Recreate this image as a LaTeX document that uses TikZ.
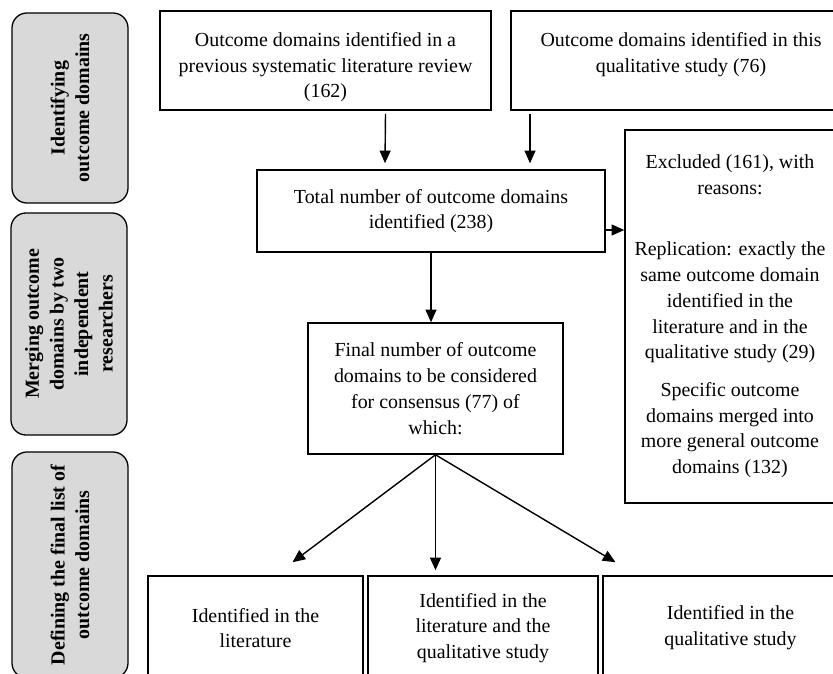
\documentclass[tikz,border=0pt]{standalone}
\usepackage{fontspec}
\setmainfont{Liberation Serif}
\usetikzlibrary{calc,arrows.meta}

\begin{document}
\begin{tikzpicture}[x=0.03cm,y=-0.03cm,
	box/.style={draw=black,line width=1.3pt,align=center,inner sep=0pt,font=\fontsize{17}{22}\selectfont},
	stage/.style={draw=black,line width=1.1pt,fill=black!15,rounded corners=0.45cm,rotate=90,align=center,inner sep=0pt,minimum height=3.48cm,font=\fontsize{17}{21}\selectfont\bfseries},
	arr/.style={line width=1.2pt,-{Triangle[length=3.8mm,width=3.3mm]}}]
				\useasboundingbox (0,0) rectangle (833,674);
				\clip (0,0) rectangle (833,674);
				
				\node[stage,minimum width=5.7cm] (idn) at (70,108) {Identifying\\outcome domains};
				\node[stage,minimum width=6.66cm] (mrg) at (69,324) {Merging outcome\\domains by two\\independent\\researchers};
				\node[stage,minimum width=6.78cm] (dfn) at (70,565) {Defining the final list of\\outcome domains};
				
				\node[box,minimum width=9.93cm,minimum height=2.97cm,text height=64pt,text depth=0pt] (lit) at (325.5,60.5) {Outcome domains identified in a\\previous systematic literature review\\(162)};
				\node[box,minimum width=10.2cm,minimum height=2.97cm,text height=20pt,text depth=0pt] (qual) at (681,60.5) {Outcome domains identified in this\\qualitative study (76)};
				
				\node[box,minimum width=10.44cm,minimum height=2.46cm] (total) at (431,211) {Total number of outcome domains\\identified (238)};
				\node[box,minimum width=6.3cm,minimum height=11.19cm] (excl) at (730,316.5) {Excluded (161), with\\reasons:\\[30pt]Replication: exactly the\\same outcome domain\\identified in the\\literature and in the\\qualitative study (29)\\[10pt]Specific outcome\\domains merged into\\more general outcome\\domains (132)};
				\node[box,minimum width=7.65cm,minimum height=3.93cm] (final) at (435.5,388.5) {Final number of outcome\\domains to be considered\\for consensus (77) of\\which:};
				
				\node[box,minimum width=6.45cm,minimum height=3.12cm] (lonly) at (255.5,628) {Identified in the\\literature};
				\node[box,minimum width=6.9cm,minimum height=3.12cm] (both) at (483,628) {Identified in the\\literature and the\\qualitative study};
				\node[box,minimum width=7.65cm,minimum height=3.12cm] (qonly) at (730.5,628) {Identified in the\\qualitative study};
				
				\draw[arr] ($(lit.south)+(60,3)$) -- ($(total.north)+(-46,-6)$);
				\draw[arr] ($(qual.south)+(-151,3)$) -- ($(total.north)+(99,-6)$);
				\coordinate (jt) at ($(total.east)+(0,19)$);
				\draw[arr] (jt) -- (jt -| excl.west);
				\draw[arr] (total.south) -- (total.south |- final.north);
				
				\draw[arr] (final.south) -- ($(lonly.north)+(37,-13)$);
				\draw[arr] (final.south) -- ($(final.south |- both.north)+(0,-5)$);
				\draw[arr] (final.south) -- ($(qonly.north)+(-115,-13)$);
			\end{tikzpicture}
\end{document}
